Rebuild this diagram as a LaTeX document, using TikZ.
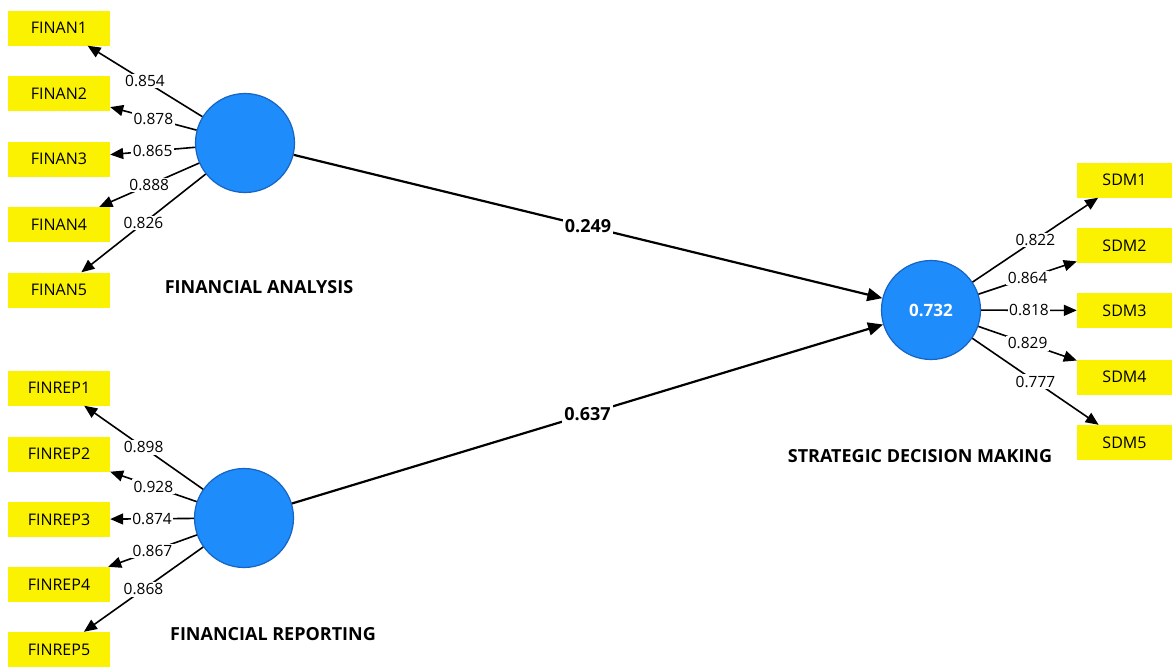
\documentclass[tikz,border=0pt]{standalone}
\usepackage{fontspec}
\setmainfont{Open Sans}
\usetikzlibrary{arrows.meta}
\definecolor{lvblue}{RGB}{30,140,250}
\definecolor{lvedge}{RGB}{22,100,195}
\definecolor{indyellow}{RGB}{250,242,0}
\begin{document}
\begin{tikzpicture}[x=1pt,y=-1pt,
  indicator/.style={fill=indyellow, minimum width=102pt, minimum height=35pt, inner sep=0pt,
    font=\fontsize{16}{16}\selectfont, text=black},
  latent/.style={circle, fill=lvblue, draw=lvedge, line width=1.2pt, minimum size=99pt,
    inner sep=0pt, text=white, font=\bfseries\fontsize{17}{17}\selectfont},
  loading/.style={line width=1.6pt, -{Triangle[length=13pt,width=11pt]}},
  pathcoef/.style={line width=2.2pt, -{Triangle[length=15pt,width=13pt]}},
  wlabel/.style={fill=white, inner sep=1.5pt, font=\fontsize{15.5}{16}\selectfont},
  plabel/.style={fill=white, inner sep=2pt, font=\bfseries\fontsize{18}{18}\selectfont},
  lvtitle/.style={font=\bfseries\fontsize{18}{18}\selectfont}
]
\useasboundingbox[fill=white] (0,0) rectangle (1172,667);

% latent variables
\node[latent] (fa)  at (245,143) {};
\node[latent] (fr)  at (244,518) {};
\node[latent] (sdm) at (931,310) {0.732};

\node[lvtitle] (tfa)  at (259,287) {FINANCIAL ANALYSIS};
\node[lvtitle] (tfr)  at (273,634) {FINANCIAL REPORTING};
\node[lvtitle] (tsdm) at (920,456) {STRATEGIC DECISION MAKING};

% financial analysis indicators
\node[indicator] (f1) at (59,28)    {FINAN1};
\node[indicator] (f2) at (59,93.5)  {FINAN2};
\node[indicator] (f3) at (59,159)   {FINAN3};
\node[indicator] (f4) at (59,224.5) {FINAN4};
\node[indicator] (f5) at (59,290)   {FINAN5};

% financial reporting indicators
\node[indicator] (r1) at (59,388)   {FINREP1};
\node[indicator] (r2) at (59,454)   {FINREP2};
\node[indicator] (r3) at (59,519.5) {FINREP3};
\node[indicator] (r4) at (59,584.5) {FINREP4};
\node[indicator] (r5) at (59,649.5) {FINREP5};

% strategic decision making indicators
\node[indicator, minimum width=95pt] (s1) at (1124.5,180)   {SDM1};
\node[indicator, minimum width=95pt] (s2) at (1124.5,245.5) {SDM2};
\node[indicator, minimum width=95pt] (s3) at (1124.5,310.5) {SDM3};
\node[indicator, minimum width=95pt] (s4) at (1124.5,377)   {SDM4};
\node[indicator, minimum width=95pt] (s5) at (1124.5,442.5) {SDM5};

% outer loadings
\draw[loading] (fa) -- node[wlabel] {0.854} (f1);
\draw[loading] (fa) -- node[wlabel] {0.878} (f2);
\draw[loading] (fa) -- node[wlabel] {0.865} (f3);
\draw[loading] (fa) -- node[wlabel] {0.888} (f4);
\draw[loading] (fa) -- node[wlabel] {0.826} (f5);

\draw[loading] (fr) -- node[wlabel] {0.898} (r1);
\draw[loading] (fr) -- node[wlabel] {0.928} (r2);
\draw[loading] (fr) -- node[wlabel] {0.874} (r3);
\draw[loading] (fr) -- node[wlabel] {0.867} (r4);
\draw[loading] (fr) -- node[wlabel] {0.868} (r5);

\draw[loading] (sdm) -- node[wlabel] {0.822} (s1);
\draw[loading] (sdm) -- node[wlabel] {0.864} (s2);
\draw[loading] (sdm) -- node[wlabel] {0.818} (s3);
\draw[loading] (sdm) -- node[wlabel] {0.829} (s4);
\draw[loading] (sdm) -- node[wlabel] {0.777} (s5);

% path coefficients
\draw[pathcoef] (fa) -- node[plabel] {0.249} (sdm);
\draw[pathcoef] (fr) -- node[plabel] {0.637} (sdm);
\end{tikzpicture}
\end{document}
